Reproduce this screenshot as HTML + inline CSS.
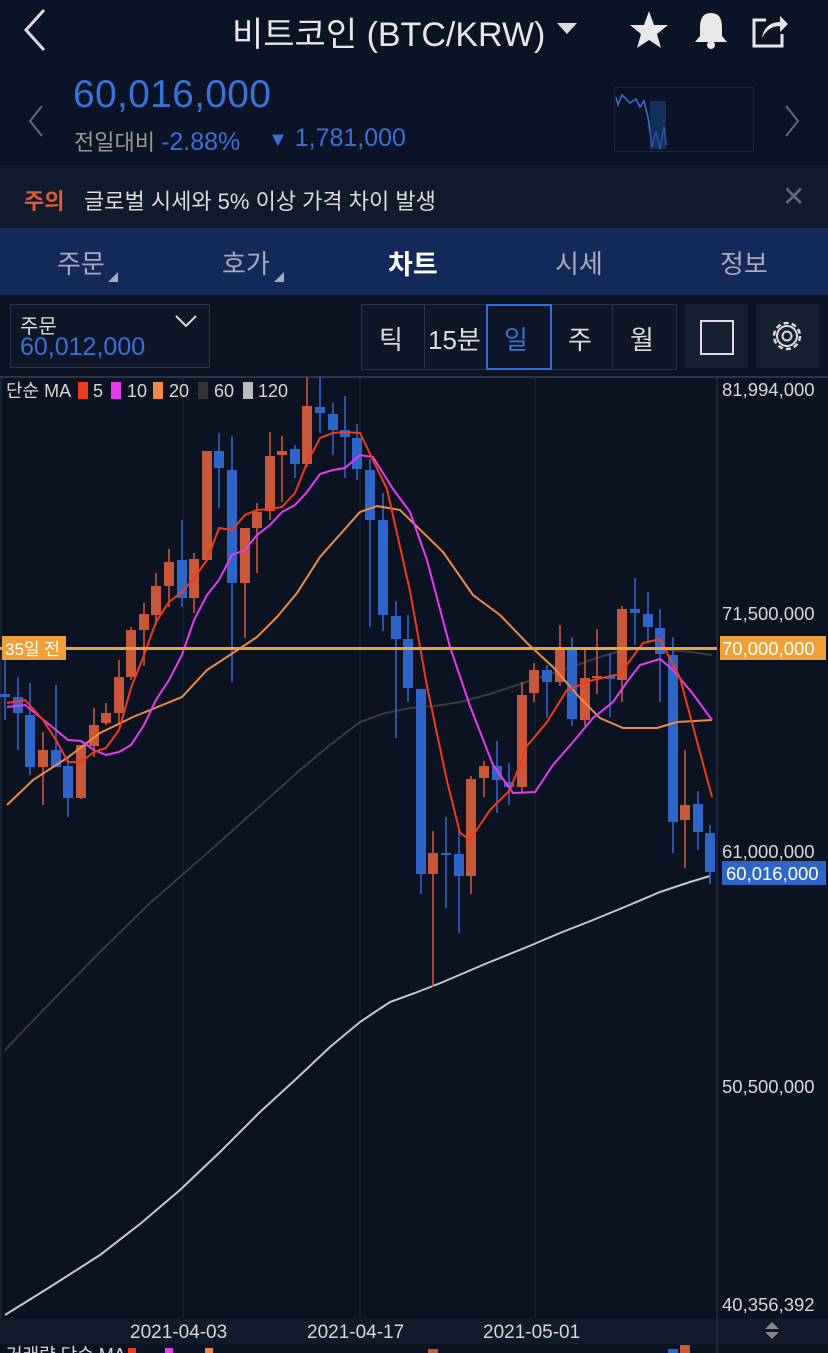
<!DOCTYPE html>
<html><head><meta charset="utf-8"><style>
body{margin:0;width:828px;height:1353px;background:#0b1323;overflow:hidden;font-family:"Liberation Sans","Noto Sans CJK KR",sans-serif;position:relative}
.a{position:absolute;white-space:nowrap}
</style></head><body>
<!-- header -->
<div class="a" style="left:0;top:0;width:828px;height:165px;background:#0b1426"></div>
<svg class="a" style="left:20px;top:8px" width="30" height="44"><polyline points="24,2 6,22 24,42" fill="none" stroke="#ddd" stroke-width="3"/></svg>
<div class="a" style="left:232px;top:7px;font-size:34px;color:#e8e8e8">비트코인 (BTC/KRW)</div>
<svg class="a" style="left:556px;top:22px" width="22" height="14"><polygon points="1,1 21,1 11,12" fill="#ddd"/></svg>
<svg class="a" style="left:628px;top:10px" width="42" height="40"><polygon points="21,1 26,15 40,15 29,24 33,38 21,30 9,38 13,24 2,15 16,15" fill="#e8e8e8"/></svg>
<svg class="a" style="left:692px;top:10px" width="38" height="40"><path d="M19 3 C10 3 8 10 8 18 L8 26 L3 32 L35 32 L30 26 L30 18 C30 10 28 3 19 3Z" fill="#e8e8e8"/><circle cx="19" cy="35" r="4" fill="#e8e8e8"/></svg>
<svg class="a" style="left:750px;top:10px" width="40" height="40"><path d="M16 10 H4 V36 H32 V24" fill="none" stroke="#e8e8e8" stroke-width="3"/><path d="M12 28 C14 16 22 12 30 12 L30 6 L38 14 L30 22 L30 16 C22 16 16 20 12 28Z" fill="#e8e8e8"/></svg>
<svg class="a" style="left:26px;top:104px" width="20" height="34"><polyline points="16,2 4,17 16,32" fill="none" stroke="#667" stroke-width="2"/></svg>
<div class="a" style="left:73px;top:73px;font-size:39px;color:#3a72d8;letter-spacing:0.3px">60,016,000</div>
<div class="a" style="left:74px;top:125px;font-size:22px;color:#999">전일대비 <span style="color:#3a72d8;font-size:25px">-2.88%</span></div>
<div class="a" style="left:268px;top:124px;font-size:25px;color:#3a72d8"><span style="font-size:20px">▼</span> 1,781,000</div>
<div class="a" style="left:614px;top:87px;width:138px;height:63px;border:1px solid #1d2638"></div>
<svg class="a" style="left:614px;top:87px" width="140" height="64"><polyline points="2,10 4,18 8,8 12,12 16,16 22,12 26,20 30,14 34,30 38,60 42,45 46,62 50,40 52,58" fill="none" stroke="#3a72d8" stroke-width="1.5"/><rect x="36" y="14" width="16" height="48" fill="#1e3f80" opacity="0.6"/></svg>
<svg class="a" style="left:782px;top:104px" width="20" height="34"><polyline points="4,2 16,17 4,32" fill="none" stroke="#667" stroke-width="2"/></svg>
<!-- warning -->
<div class="a" style="left:0;top:165px;width:828px;height:63px;background:#111a2c"></div>
<div class="a" style="left:24px;top:184px;font-size:22px;color:#e0593a;font-weight:bold">주의</div>
<div class="a" style="left:84px;top:184px;font-size:22px;color:#ddd">글로벌 시세와 5% 이상 가격 차이 발생</div>
<div class="a" style="left:782px;top:180px;font-size:28px;color:#667">✕</div>
<!-- tabs -->
<div class="a" style="left:0;top:228px;width:828px;height:67px;background:#13295a"></div>
<div class="a" style="left:57px;top:244px;font-size:26px;color:#aab">주문</div>
<div class="a" style="left:222px;top:244px;font-size:26px;color:#aab">호가</div>
<svg class="a" style="left:108px;top:272px" width="10" height="10"><polygon points="10,0 10,10 0,10" fill="#aab"/></svg>
<svg class="a" style="left:274px;top:272px" width="10" height="10"><polygon points="10,0 10,10 0,10" fill="#aab"/></svg>
<div class="a" style="left:388px;top:243px;font-size:27px;color:#fff;font-weight:bold">차트</div>
<div class="a" style="left:555px;top:244px;font-size:26px;color:#aab">시세</div>
<div class="a" style="left:720px;top:244px;font-size:26px;color:#aab">정보</div>
<!-- toolbar -->
<div class="a" style="left:10px;top:304px;width:198px;height:62px;border:1px solid #2a3347;background:#0e1628"></div>
<div class="a" style="left:20px;top:310px;font-size:20px;color:#ddd">주문</div>
<div class="a" style="left:20px;top:333px;font-size:25px;color:#3a72d8">60,012,000</div>
<svg class="a" style="left:174px;top:314px" width="24" height="16"><polyline points="2,2 12,12 22,2" fill="none" stroke="#ddd" stroke-width="2"/></svg>
<div class="a" style="left:361px;top:304px;width:314px;height:64px;border:1px solid #2a3347;background:#0e1628"></div>
<div class="a" style="left:424px;top:304px;width:1px;height:64px;background:#2a3347"></div>
<div class="a" style="left:550px;top:304px;width:1px;height:64px;background:#2a3347"></div>
<div class="a" style="left:612px;top:304px;width:1px;height:64px;background:#2a3347"></div>
<div class="a" style="left:486px;top:304px;width:62px;height:62px;border:2px solid #2f6ee0"></div>
<div class="a" style="left:379px;top:320px;font-size:26px;color:#ddd">틱</div>
<div class="a" style="left:428px;top:320px;font-size:26px;color:#ddd">15분</div>
<div class="a" style="left:504px;top:320px;font-size:26px;color:#3a72d8">일</div>
<div class="a" style="left:568px;top:320px;font-size:26px;color:#ddd">주</div>
<div class="a" style="left:630px;top:320px;font-size:26px;color:#ddd">월</div>
<div class="a" style="left:685px;top:304px;width:63px;height:64px;background:#161f31"></div>
<div class="a" style="left:700px;top:320px;width:30px;height:31px;border:2px solid #ddd"></div>
<div class="a" style="left:756px;top:304px;width:63px;height:64px;background:#161f31"></div>
<svg class="a" style="left:767px;top:316px" width="40" height="40"><circle cx="20" cy="20" r="13" fill="none" stroke="#ddd" stroke-width="2.5" stroke-dasharray="5 3.2"/><circle cx="20" cy="20" r="10" fill="none" stroke="#ddd" stroke-width="2"/><circle cx="20" cy="20" r="4.5" fill="none" stroke="#ddd" stroke-width="2"/></svg>
<!-- chart -->
<svg class="a" style="left:0;top:0" width="828" height="1353">
<rect x="0" y="376" width="828" height="2" fill="#2a3347"/>
<rect x="0" y="1318" width="828" height="26" fill="#111a2b"/>
<line x1="717" y1="378" x2="717" y2="1353" stroke="#1d2638" stroke-width="2"/>
<line x1="183" y1="378" x2="183" y2="1318" stroke="#1a2334"/>
<line x1="360" y1="378" x2="360" y2="1318" stroke="#1a2334"/>
<line x1="535" y1="378" x2="535" y2="1318" stroke="#1a2334"/>
<line x1="1" y1="378" x2="1" y2="1318" stroke="#2a3347"/>
<polyline fill="none" stroke="#c8c8c8" stroke-width="2" points="5,1315 50,1287 100,1255 140,1224 180,1190 220,1152 260,1112 295,1080 330,1047 360,1022 390,1002 415,993 443,982 485,964 527,947 560,933 593,920 627,906 660,892 690,882 710,876"/>
<polyline fill="none" stroke="#3a3a3a" stroke-width="2" points="5,1050 50,1003 100,952 150,903 213,848 260,806 300,770 330,745 360,722 385,713 410,708 435,706 460,702 490,694 520,684 550,674 577,665 600,657 620,651 640,648 660,649 690,652 712,655"/>
<g stroke-width="1.6">
<line x1="5" y1="655" x2="5" y2="720" stroke="#2f64c8"/><rect x="0" y="694" width="10" height="3" fill="#2f64c8"/>
<line x1="18" y1="677" x2="18" y2="750" stroke="#2f64c8"/><rect x="13" y="697" width="10" height="16" fill="#2f64c8"/>
<line x1="30" y1="683" x2="30" y2="775" stroke="#2f64c8"/><rect x="25" y="715" width="10" height="52" fill="#2f64c8"/>
<line x1="43" y1="732" x2="43" y2="805" stroke="#c9573a"/><rect x="38" y="750" width="10" height="17" fill="#c9573a"/>
<line x1="56" y1="685" x2="56" y2="767" stroke="#2f64c8"/><rect x="51" y="750" width="10" height="17" fill="#2f64c8"/>
<line x1="68" y1="757" x2="68" y2="817" stroke="#2f64c8"/><rect x="63" y="766" width="10" height="32" fill="#2f64c8"/>
<line x1="81" y1="745" x2="81" y2="799" stroke="#c9573a"/><rect x="76" y="745" width="10" height="53" fill="#c9573a"/>
<line x1="94" y1="708" x2="94" y2="757" stroke="#c9573a"/><rect x="89" y="725" width="10" height="21" fill="#c9573a"/>
<line x1="106" y1="703" x2="106" y2="725" stroke="#c9573a"/><rect x="101" y="713" width="10" height="10" fill="#c9573a"/>
<line x1="119" y1="660" x2="119" y2="725" stroke="#c9573a"/><rect x="114" y="677" width="10" height="36" fill="#c9573a"/>
<line x1="131" y1="627" x2="131" y2="680" stroke="#c9573a"/><rect x="126" y="630" width="10" height="47" fill="#c9573a"/>
<line x1="144" y1="603" x2="144" y2="666" stroke="#c9573a"/><rect x="139" y="614" width="10" height="16" fill="#c9573a"/>
<line x1="156" y1="573" x2="156" y2="625" stroke="#c9573a"/><rect x="151" y="586" width="10" height="29" fill="#c9573a"/>
<line x1="169" y1="549" x2="169" y2="607" stroke="#c9573a"/><rect x="164" y="562" width="10" height="24" fill="#c9573a"/>
<line x1="182" y1="520" x2="182" y2="607" stroke="#2f64c8"/><rect x="177" y="560" width="10" height="38" fill="#2f64c8"/>
<line x1="194" y1="553" x2="194" y2="613" stroke="#c9573a"/><rect x="189" y="559" width="10" height="39" fill="#c9573a"/>
<line x1="207" y1="451" x2="207" y2="560" stroke="#c9573a"/><rect x="202" y="451" width="10" height="109" fill="#c9573a"/>
<line x1="219" y1="433" x2="219" y2="508" stroke="#2f64c8"/><rect x="214" y="451" width="10" height="17" fill="#2f64c8"/>
<line x1="232" y1="436" x2="232" y2="682" stroke="#2f64c8"/><rect x="227" y="470" width="10" height="113" fill="#2f64c8"/>
<line x1="245" y1="528" x2="245" y2="638" stroke="#c9573a"/><rect x="240" y="528" width="10" height="55" fill="#c9573a"/>
<line x1="257" y1="503" x2="257" y2="573" stroke="#c9573a"/><rect x="252" y="512" width="10" height="16" fill="#c9573a"/>
<line x1="270" y1="432" x2="270" y2="520" stroke="#c9573a"/><rect x="265" y="456" width="10" height="55" fill="#c9573a"/>
<line x1="282" y1="436" x2="282" y2="502" stroke="#c9573a"/><rect x="277" y="451" width="10" height="4" fill="#c9573a"/>
<line x1="295" y1="445" x2="295" y2="478" stroke="#2f64c8"/><rect x="290" y="449" width="10" height="15" fill="#2f64c8"/>
<line x1="307" y1="377" x2="307" y2="467" stroke="#c9573a"/><rect x="302" y="406" width="10" height="58" fill="#c9573a"/>
<line x1="320" y1="377" x2="320" y2="433" stroke="#2f64c8"/><rect x="315" y="407" width="10" height="6" fill="#2f64c8"/>
<line x1="333" y1="403" x2="333" y2="455" stroke="#2f64c8"/><rect x="328" y="414" width="10" height="16" fill="#2f64c8"/>
<line x1="345" y1="396" x2="345" y2="478" stroke="#2f64c8"/><rect x="340" y="430" width="10" height="7" fill="#2f64c8"/>
<line x1="357" y1="424" x2="357" y2="480" stroke="#2f64c8"/><rect x="352" y="438" width="10" height="31" fill="#2f64c8"/>
<line x1="370" y1="459" x2="370" y2="627" stroke="#2f64c8"/><rect x="365" y="470" width="10" height="50" fill="#2f64c8"/>
<line x1="383" y1="493" x2="383" y2="631" stroke="#2f64c8"/><rect x="378" y="520" width="10" height="95" fill="#2f64c8"/>
<line x1="396" y1="601" x2="396" y2="738" stroke="#2f64c8"/><rect x="391" y="616" width="10" height="23" fill="#2f64c8"/>
<line x1="408" y1="615" x2="408" y2="702" stroke="#2f64c8"/><rect x="403" y="639" width="10" height="49" fill="#2f64c8"/>
<line x1="421" y1="689" x2="421" y2="894" stroke="#2f64c8"/><rect x="416" y="689" width="10" height="185" fill="#2f64c8"/>
<line x1="433" y1="831" x2="433" y2="987" stroke="#c9573a"/><rect x="428" y="853" width="10" height="21" fill="#c9573a"/>
<line x1="446" y1="817" x2="446" y2="908" stroke="#2f64c8"/><rect x="441" y="853" width="10" height="2" fill="#2f64c8"/>
<line x1="459" y1="829" x2="459" y2="933" stroke="#2f64c8"/><rect x="454" y="854" width="10" height="22" fill="#2f64c8"/>
<line x1="471" y1="776" x2="471" y2="894" stroke="#c9573a"/><rect x="466" y="779" width="10" height="97" fill="#c9573a"/>
<line x1="484" y1="761" x2="484" y2="797" stroke="#c9573a"/><rect x="479" y="766" width="10" height="12" fill="#c9573a"/>
<line x1="497" y1="741" x2="497" y2="813" stroke="#2f64c8"/><rect x="492" y="766" width="10" height="14" fill="#2f64c8"/>
<line x1="509" y1="763" x2="509" y2="805" stroke="#2f64c8"/><rect x="504" y="782" width="10" height="5" fill="#2f64c8"/>
<line x1="522" y1="682" x2="522" y2="792" stroke="#c9573a"/><rect x="517" y="695" width="10" height="92" fill="#c9573a"/>
<line x1="534" y1="663" x2="534" y2="702" stroke="#c9573a"/><rect x="529" y="670" width="10" height="23" fill="#c9573a"/>
<line x1="547" y1="665" x2="547" y2="718" stroke="#2f64c8"/><rect x="542" y="670" width="10" height="12" fill="#2f64c8"/>
<line x1="560" y1="625" x2="560" y2="686" stroke="#c9573a"/><rect x="555" y="649" width="10" height="33" fill="#c9573a"/>
<line x1="572" y1="637" x2="572" y2="726" stroke="#2f64c8"/><rect x="567" y="649" width="10" height="70" fill="#2f64c8"/>
<line x1="585" y1="649" x2="585" y2="726" stroke="#c9573a"/><rect x="580" y="678" width="10" height="42" fill="#c9573a"/>
<line x1="597" y1="629" x2="597" y2="694" stroke="#c9573a"/><rect x="592" y="676" width="10" height="2" fill="#c9573a"/>
<line x1="610" y1="654" x2="610" y2="717" stroke="#2f64c8"/><rect x="605" y="676" width="10" height="3" fill="#2f64c8"/>
<line x1="622" y1="606" x2="622" y2="702" stroke="#c9573a"/><rect x="617" y="609" width="10" height="71" fill="#c9573a"/>
<line x1="635" y1="578" x2="635" y2="645" stroke="#2f64c8"/><rect x="630" y="609" width="10" height="4" fill="#2f64c8"/>
<line x1="648" y1="592" x2="648" y2="643" stroke="#2f64c8"/><rect x="643" y="614" width="10" height="13" fill="#2f64c8"/>
<line x1="660" y1="609" x2="660" y2="702" stroke="#2f64c8"/><rect x="655" y="628" width="10" height="26" fill="#2f64c8"/>
<line x1="673" y1="637" x2="673" y2="853" stroke="#2f64c8"/><rect x="668" y="655" width="10" height="167" fill="#2f64c8"/>
<line x1="685" y1="750" x2="685" y2="868" stroke="#c9573a"/><rect x="680" y="805" width="10" height="15" fill="#c9573a"/>
<line x1="698" y1="791" x2="698" y2="850" stroke="#2f64c8"/><rect x="693" y="804" width="10" height="28" fill="#2f64c8"/>
<line x1="710" y1="825" x2="710" y2="884" stroke="#2f64c8"/><rect x="705" y="833" width="10" height="39" fill="#2f64c8"/>
</g>
<polyline fill="none" stroke="#f08a48" stroke-width="2" points="7,805 33,780 67,758 100,733 133,717 182,697 207,670 233,653 257,637 277,617 297,593 320,557 360,512 377,506 400,510 443,552 473,595 500,615 527,643 553,667 580,698 600,718 623,728 657,728 677,722 712,720"/>
<polyline fill="none" stroke="#e63cf0" stroke-width="2" points="7,707 25,705 56,730 68,740 81,741 94,750 106,755 119,752 131,745 144,725 156,700 169,680 182,655 194,620 207,595 219,580 232,555 245,550 257,535 270,525 282,512 295,505 307,492 320,474 333,470 345,468 360,455 373,457 393,489 410,512 427,560 450,647 470,706 493,765 513,793 535,792 553,765 573,742 593,718 613,702 627,682 640,665 660,659 673,670 693,694 712,720"/>
<polyline fill="none" stroke="#f03a1e" stroke-width="2" points="7,703 25,700 43,720 56,740 68,762 81,762 94,752 106,748 119,730 131,688 144,655 156,622 169,602 182,592 194,578 207,560 219,528 232,530 245,515 257,510 270,509 282,507 295,493 307,463 320,438 333,433 345,432 360,433 387,489 410,591 427,686 447,781 460,833 470,840 490,810 510,790 527,746 547,722 567,690 593,680 620,674 643,643 660,639 680,678 712,797"/>
<rect x="0" y="647" width="717" height="3" fill="#f0a038"/>
<rect x="2" y="636" width="64" height="24" fill="#f0a038"/>
<text x="5" y="655" font-size="17" fill="#fff" font-family="Liberation Sans,Noto Sans CJK KR,sans-serif">35일 전</text>
<rect x="720" y="636" width="106" height="24" fill="#f0a038"/>
<rect x="722" y="861" width="104" height="24" fill="#2f64c8"/>
<g font-size="18.5" fill="#d8d8d8" font-family="Liberation Sans,sans-serif">
<text x="722" y="396">81,994,000</text>
<text x="722" y="620">71,500,000</text>
<text x="722" y="655" fill="#fff">70,000,000</text>
<text x="722" y="858">61,000,000</text>
<text x="726" y="880" fill="#fff">60,016,000</text>
<text x="722" y="1093">50,500,000</text>
<text x="722" y="1311">40,356,392</text>
</g>
<g font-size="19" fill="#d8d8d8" font-family="Liberation Sans,sans-serif">
<text x="130" y="1338">2021-04-03</text>
<text x="307" y="1338">2021-04-17</text>
<text x="483" y="1338">2021-05-01</text>
</g>
<polygon points="772,1322 779,1329 765,1329" fill="#888"/><polygon points="765,1332 779,1332 772,1339" fill="#888"/>
<g font-size="18" fill="#d8d8d8" font-family="Liberation Sans,Noto Sans CJK KR,sans-serif">
<text x="6" y="397">단순 MA</text>
<rect x="78" y="382" width="10" height="17" fill="#f03a1e"/><text x="93" y="397">5</text>
<rect x="111" y="382" width="10" height="17" fill="#e63cf0"/><text x="127" y="397">10</text>
<rect x="153" y="382" width="10" height="17" fill="#f08a48"/><text x="169" y="397">20</text>
<rect x="198" y="382" width="10" height="17" fill="#333"/><text x="214" y="397">60</text>
<rect x="243" y="382" width="10" height="17" fill="#bbb"/><text x="258" y="397">120</text>
<text x="6" y="1361">거래량 단순 MA</text>
<rect x="128" y="1348" width="8" height="10" fill="#f03a1e"/>
<rect x="165" y="1348" width="8" height="10" fill="#e63cf0"/>
<rect x="205" y="1348" width="8" height="10" fill="#f08a48"/>
</g>
<rect x="428" y="1349" width="10" height="6" fill="#c9573a"/>
<rect x="668" y="1349" width="10" height="6" fill="#2f64c8"/>
<rect x="680" y="1345" width="10" height="10" fill="#c9573a"/>
</svg>
</body></html>
